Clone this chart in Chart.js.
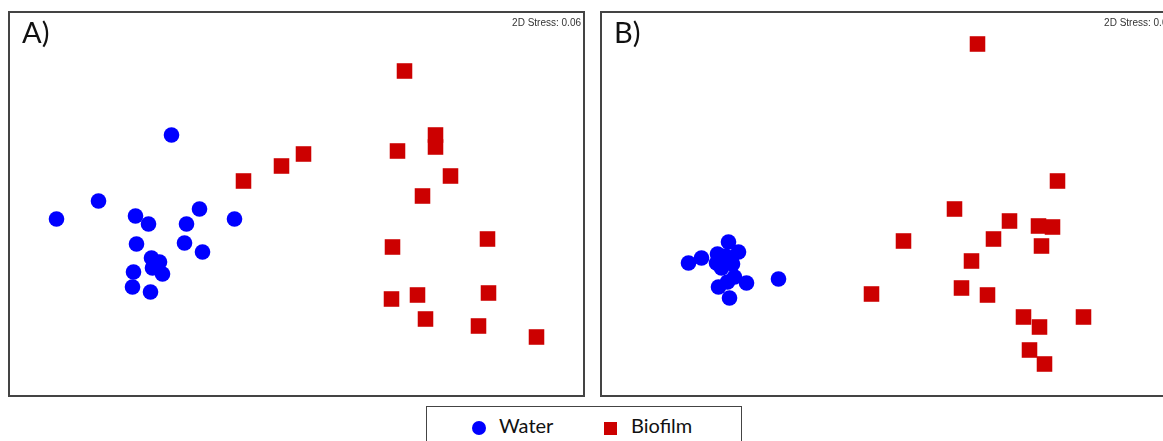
<!DOCTYPE html>
<html>
<head>
<meta charset="utf-8">
<script src="https://cdn.jsdelivr.net/npm/chart.js@4/dist/chart.umd.min.js"></script>
<style>
  html, body { margin: 0; padding: 0; background: #fff; width: 1163px; height: 441px; overflow: hidden; position: relative; }
  .panel { position: absolute; top: 11px; width: 577px; height: 386px; }
  #panelA { left: 8px; }
  #panelB { left: 600px; }
  .legend { position: absolute; left: 426px; top: 406px; width: 316px; height: 60px; border: 1px solid #444; box-sizing: border-box; font-family: Lato, "Open Sans", sans-serif; font-size: 20px; color: #111; }
  .legend span { position: absolute; }
  .sym-circle { width: 14px; height: 14px; border-radius: 50%; background: #0000FF; left: 45px; top: 14px; }
  .sym-rect { width: 13px; height: 13px; background: #CC0000; left: 177px; top: 15px; }
  .lab1 { left: 72px; top: 6px; }
  .lab2 { left: 204px; top: 6px; }
</style>
</head>
<body>
<div class="panel" id="panelA"><canvas id="cA" width="577" height="386"></canvas></div>
<div class="panel" id="panelB"><canvas id="cB" width="577" height="386"></canvas></div>
<div class="legend">
  <span class="sym-circle"></span><span class="lab1">Water</span>
  <span class="sym-rect"></span><span class="lab2">Biofilm</span>
</div>
<script>
// Series names and panel texts
const seriesNames = ["Water", "Biofilm"];
const panelLabels = ["A)", "B)"];
const stressLabels = ["2D Stress: 0.06", "2D Stress: 0.06"];

// Panel A: NMDS coordinates (arbitrary units)
const waterAx = [-1.25, -1.98, -2.40, -1.61, -1.48, -0.97, -1.10, -0.62, -1.60, -1.12, -0.94, -1.45, -1.37, -1.44, -1.34, -1.63, -1.64, -1.46];
const waterAy = [ 0.69,  0.03, -0.15, -0.12, -0.20, -0.05, -0.20, -0.15, -0.40, -0.39, -0.48, -0.54, -0.58, -0.64, -0.70, -0.68, -0.83, -0.88];
const biofilmAx = [1.08, 1.01, 1.39, 1.39, 0.07, -0.15, -0.53, 1.54, 1.26, 0.96, 1.91, 0.95, 1.21, 1.92, 1.29, 1.82, 2.40];
const biofilmAy = [1.33, 0.53, 0.69, 0.57, 0.50,  0.38,  0.23, 0.28, 0.08, -0.43, -0.35, -0.95, -0.91, -0.89, -1.15, -1.22, -1.33];

// Panel B: NMDS coordinates (arbitrary units)
const waterBx = [-2.00, -1.87, -1.60, -1.71, -1.50, -1.57, -1.72, -1.67, -1.56, -1.54, -1.61, -1.70, -1.42, -1.59, -1.10, -1.63];
const waterBy = [-0.59, -0.54, -0.38, -0.50, -0.48, -0.54, -0.59, -0.64, -0.60, -0.73, -0.78, -0.83, -0.79, -0.94, -0.75, -0.52];
const biofilmBx = [0.89, 1.69, 0.66, 1.21, 1.50, 1.64, 0.15, 1.05, 1.53, 0.83, -0.17, 0.73, 0.99, 1.35, 1.95, 1.51, 1.41, 1.56];
const biofilmBy = [1.60, 0.23, -0.05, -0.17, -0.22, -0.23, -0.37, -0.35, -0.42, -0.57, -0.90, -0.84, -0.91, -1.13, -1.13, -1.23, -1.46, -1.60];

// Axis extents of each panel frame
const xRange = [-2.885, 2.885];
const yRange = [-1.93, 1.93];

function pts(xs, ys) { return xs.map((x, i) => ({ x: x, y: ys[i] })); }

const framePlugin = {
  id: 'frame',
  afterDatasetsDraw(chart, args, opts) {
    const ctx = chart.ctx;
    const a = chart.chartArea;
    ctx.save();
    ctx.strokeStyle = '#444';
    ctx.lineWidth = 2;
    ctx.strokeRect(a.left + 1, a.top + 1, a.right - a.left - 2, a.bottom - a.top - 2);
    ctx.fillStyle = '#111';
    ctx.font = '29px Lato, "Open Sans", sans-serif';
    ctx.textAlign = 'left';
    ctx.textBaseline = 'alphabetic';
    ctx.fillText(opts.label, a.left + 14, a.top + 32);
    ctx.fillStyle = '#333';
    ctx.font = '10px "Liberation Sans", Arial, sans-serif';
    ctx.textAlign = 'right';
    ctx.fillText(opts.stress, a.right - 4, a.top + 15);
    ctx.restore();
  }
};

function makeChart(id, wx, wy, bx, by, label, stress) {
  new Chart(document.getElementById(id), {
    type: 'scatter',
    data: {
      datasets: [
        { label: seriesNames[0], data: pts(wx, wy), pointStyle: 'circle', pointRadius: 7.8, pointHoverRadius: 7.8, backgroundColor: '#0000FF', borderWidth: 0 },
        { label: seriesNames[1], data: pts(bx, by), pointStyle: 'rect', pointRadius: 11, pointHoverRadius: 11, backgroundColor: '#CC0000', borderWidth: 0 }
      ]
    },
    options: {
      responsive: false,
      animation: false,
      events: [],
      layout: { padding: 0, autoPadding: false },
      plugins: { legend: { display: false }, tooltip: { enabled: false }, frame: { label: label, stress: stress } },
      scales: {
        x: { type: 'linear', display: false, min: xRange[0], max: xRange[1] },
        y: { type: 'linear', display: false, min: yRange[0], max: yRange[1] }
      }
    },
    plugins: [framePlugin]
  });
}

makeChart('cA', waterAx, waterAy, biofilmAx, biofilmAy, panelLabels[0], stressLabels[0]);
makeChart('cB', waterBx, waterBy, biofilmBx, biofilmBy, panelLabels[1], stressLabels[1]);
</script>
</body>
</html>
